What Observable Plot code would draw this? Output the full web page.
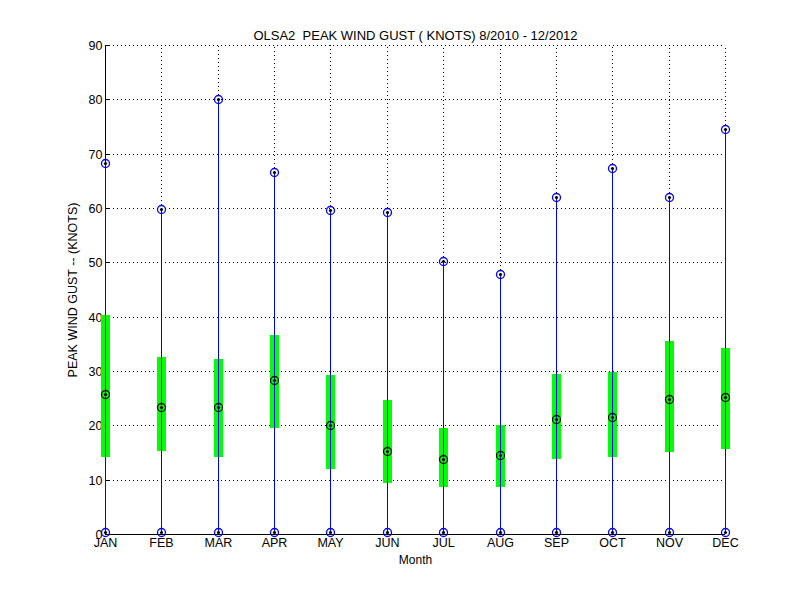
<!DOCTYPE html>
<html>
<head>
<meta charset="utf-8">
<script src="https://cdn.jsdelivr.net/npm/d3@7"></script>
<script src="https://cdn.jsdelivr.net/npm/@observablehq/plot@0.6"></script>
<style>
  html, body { margin: 0; padding: 0; background: #fff; }
  #chart svg { display: block; }
</style>
</head>
<body>
<div id="chart"></div>
<script>
const months = ["JAN","FEB","MAR","APR","MAY","JUN","JUL","AUG","SEP","OCT","NOV","DEC"];
const maxGust = [68.3, 59.9, 80.1, 66.6, 59.6, 59.3, 50.2, 47.8, 62.0, 67.3, 62.0, 74.6];
const minGust = [0.35, 0.35, 0.35, 0.35, 0.35, 0.35, 0.35, 0.35, 0.35, 0.35, 0.35, 0.35];
const q25 = [14.2, 15.3, 14.2, 19.5, 12.0, 9.3, 8.7, 8.7, 13.8, 14.2, 15.1, 15.7];
const q75 = [40.3, 32.6, 32.3, 36.6, 29.3, 24.6, 19.45, 20.0, 29.5, 29.9, 35.5, 34.3];
const medians = [25.8, 23.4, 23.4, 28.4, 20.1, 15.2, 13.8, 14.5, 21.2, 21.6, 24.9, 25.2];
const yTicks = [0, 10, 20, 30, 40, 50, 60, 70, 80, 90];

const titleText = "OLSA2  PEAK WIND GUST ( KNOTS) 8/2010 - 12/2012";
const yLabel = "PEAK WIND GUST -- (KNOTS)";
const xLabel = "Month";

const rows = months.map((m, i) => ({
  idx: i + 1, month: m, max: maxGust[i], min: minGust[i],
  lo: q25[i], hi: q75[i], med: medians[i]
}));
const yTop = yTicks[yTicks.length - 1];

const blue = "#0000ff";
const green = "#00ff00";
const font = "'Liberation Sans', Arial, Helvetica, sans-serif";

const plot = Plot.plot({
  width: 800,
  height: 600,
  marginLeft: 105,
  marginRight: 75,
  marginTop: 45,
  marginBottom: 66,
  style: { fontFamily: font, fontSize: "12.5px", background: "#fff", color: "#000" },
  x: { type: "linear", domain: [1, 12], round: true },
  y: { domain: [0, yTop], round: true },
  marks: [
    // dotted grid
    Plot.ruleY(yTicks.slice(1), { y: d => d, stroke: "#000", strokeWidth: 1, strokeDasharray: "1,3" }),
    Plot.ruleX(rows.slice(1), { x: "idx", y1: "max", y2: () => yTop, stroke: "#000", strokeWidth: 1, strokeDasharray: "1,3" }),
    // axis lines
    Plot.ruleY([0], { stroke: "#000", strokeWidth: 1 }),
    Plot.ruleX([1], { stroke: "#000", strokeWidth: 1 }),
    // y tick marks (inward)
    Plot.axisY({ ticks: yTicks, tickSize: 5, dx: 5, text: null, label: null }),
    // tick labels
    Plot.axisY({ ticks: yTicks, tickSize: 0, tickPadding: 3, label: null, tickFormat: d => String(d) }),
    Plot.axisX({ ticks: rows.map(d => d.idx), tickSize: 0, tickPadding: 4, label: null, tickFormat: d => months[d - 1] }),
    // green interquartile bars
    Plot.ruleX(rows, { x: "idx", y1: "lo", y2: "hi", stroke: green, strokeWidth: 9 }),
    // blue min-max lines
    Plot.ruleX(rows, { x: "idx", y1: "min", y2: "max", stroke: blue, strokeWidth: 1 }),
    // markers
    Plot.dot(rows, { x: "idx", y: "max", r: 4, stroke: blue, strokeWidth: 1.3, fill: "none" }),
    Plot.dot(rows, { x: "idx", y: "max", r: 1.6, fill: "#000", stroke: "none" }),
    Plot.dot(rows, { x: "idx", y: "min", r: 4, stroke: blue, strokeWidth: 1.3, fill: "none" }),
    Plot.dot(rows, { x: "idx", y: "min", r: 1.6, fill: "#000", stroke: "none" }),
    Plot.dot(rows, { x: "idx", y: "med", r: 4, stroke: "#111", strokeWidth: 1.3, fill: "none" }),
    Plot.dot(rows, { x: "idx", y: "med", r: 1.6, fill: "#000", stroke: "none" }),
    // title and labels
    Plot.text([titleText], { text: d => d, frameAnchor: "top", textAnchor: "middle", dy: -15, fontSize: 13, fill: "#000" }),
    Plot.text([yLabel], { text: d => d, frameAnchor: "left", textAnchor: "middle", rotate: -90, dx: -33, fontSize: 12.5, fill: "#000" }),
    Plot.text([xLabel], { text: d => d, frameAnchor: "bottom", textAnchor: "middle", dy: 29, fontSize: 12, fill: "#000" })
  ]
});

document.getElementById("chart").appendChild(plot);
</script>
</body>
</html>
